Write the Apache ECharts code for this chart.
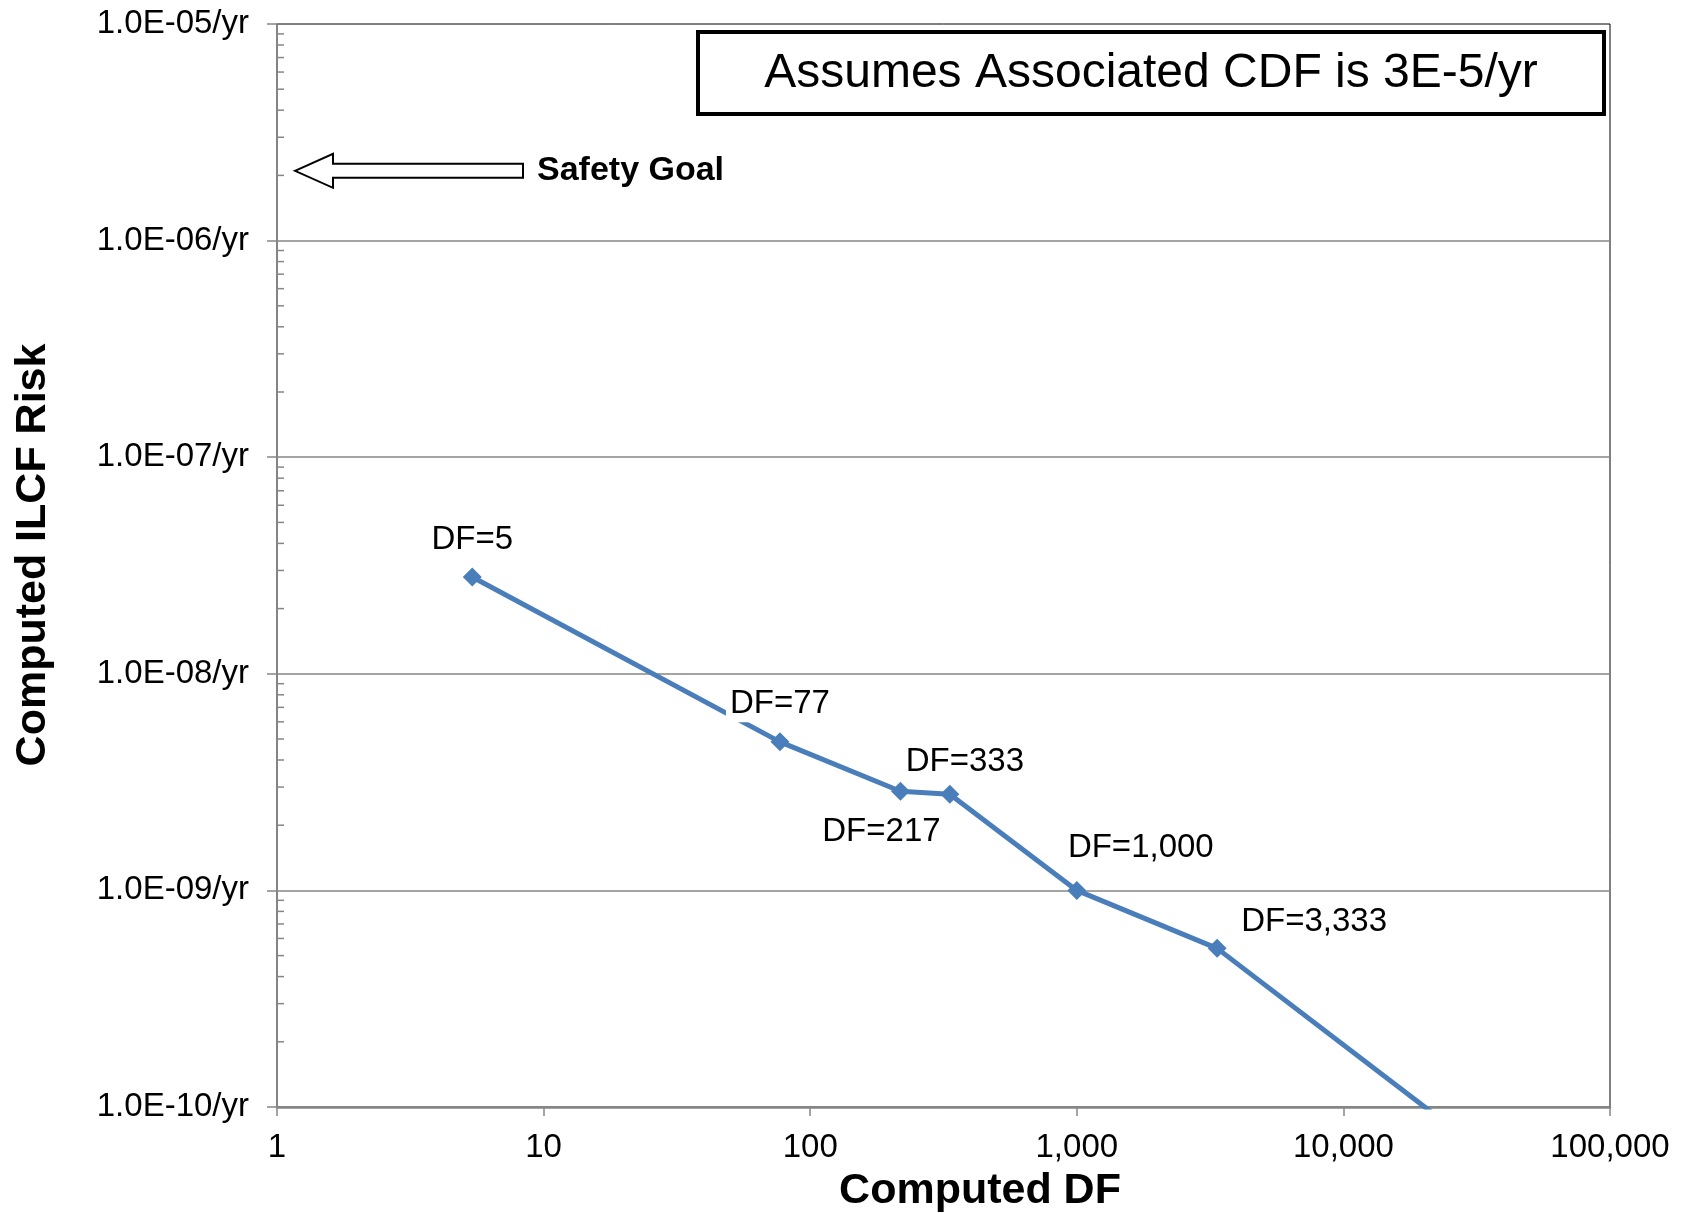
<!DOCTYPE html>
<html>
<head>
<meta charset="utf-8">
<script src="https://cdn.jsdelivr.net/npm/echarts@6/dist/echarts.min.js"></script>
<style>
  html, body { margin: 0; padding: 0; background: #fff; }
  #chart { width: 1683px; height: 1213px; }
</style>
</head>
<body>
<div id="chart"></div>
<script>
// ---- data ----
const dfValues   = [5.4, 77, 218, 334, 1000, 3360, 33000];
const riskValues = [2.8e-8, 4.85e-9, 2.87e-9, 2.78e-9, 1.0e-9, 5.4e-10, 6.3e-11];
const pointLabels = ['DF=5', 'DF=77', 'DF=217', 'DF=333', 'DF=1,000', 'DF=3,333', ''];
const xTickLabels = ['1', '10', '100', '1,000', '10,000', '100,000'];
const yTickLabels = ['1.0E-10/yr', '1.0E-09/yr', '1.0E-08/yr', '1.0E-07/yr', '1.0E-06/yr', '1.0E-05/yr'];
const safetyGoal = 2.1e-6;
const boxText = 'Assumes Associated CDF is 3E-5/yr';
const xTitle = 'Computed DF';
const yTitle = 'Computed ILCF Risk';

// label offsets (style, not data)
const labelOffsets = [[0, -37], [0, -38], [-19, 41], [15, -32], [64, -42], [97, -26], [0, 0]];

const FONT = '"Liberation Sans", Arial, Helvetica, sans-serif';
const GRAY = '#868686';
const BLUE = '#4a7ebb';

// minor tick values for the log y axis (2..9 per decade)
const minorTicks = [];
for (let n = -10; n < -5; n++) {
  for (let k = 2; k <= 9; k++) minorTicks.push([1, k * Math.pow(10, n)]);
}

const chart = echarts.init(document.getElementById('chart'), null, { renderer: 'canvas' });

const option = {
  backgroundColor: '#fff',
  animation: false,
  grid: {
    left: 277, right: 73, top: 24, bottom: 106,
    show: true, borderColor: '#000', borderWidth: 1, backgroundColor: 'transparent'
  },
  xAxis: {
    type: 'log', logBase: 10, min: 1, max: 100000,
    axisLine: { show: true, onZero: false, lineStyle: { color: GRAY, width: 2.5 } },
    axisTick: { show: true, length: 9, lineStyle: { color: GRAY, width: 1.5 } },
    splitLine: { show: false },
    axisLabel: {
      margin: 24, color: '#000', fontFamily: FONT, fontSize: 33,
      formatter: function (v) { return xTickLabels[Math.round(Math.log10(v))]; }
    }
  },
  yAxis: {
    type: 'log', logBase: 10, min: 1e-10, max: 1e-5,
    axisLine: { show: true, lineStyle: { color: GRAY, width: 1.5 } },
    axisTick: { show: true, length: 10, lineStyle: { color: GRAY, width: 1.5 } },
    splitLine: { show: true, showMinLine: false, showMaxLine: false, lineStyle: { color: GRAY, width: 1.5 } },
    axisLabel: {
      margin: 28, color: '#000', fontFamily: FONT, fontSize: 33,
      formatter: function (v) { return yTickLabels[Math.round(Math.log10(v)) + 10]; }
    }
  },
  series: [
    {
      type: 'custom',
      silent: true,
      data: minorTicks,
      renderItem: function (params, api) {
        const p = api.coord([api.value(0), api.value(1)]);
        return {
          type: 'line',
          shape: { x1: p[0], y1: p[1], x2: p[0] + 7, y2: p[1] },
          style: { stroke: GRAY, lineWidth: 1.5 }
        };
      },
      z: 1
    },
    {
      type: 'line',
      data: dfValues.map((x, i) => [x, riskValues[i]]),
      symbol: 'diamond',
      symbolSize: 19,
      clip: true,
      lineStyle: { color: BLUE, width: 5 },
      itemStyle: { color: BLUE },
      label: {
        show: true,
        position: 'inside',
        color: '#000',
        fontFamily: FONT,
        fontSize: 33,
        backgroundColor: '#fff',
        padding: [2, 4],
        formatter: function (p) { return pointLabels[p.dataIndex]; }
      },
      labelLayout: function (params) {
        const o = labelOffsets[params.dataIndex] || [0, 0];
        return { dx: o[0], dy: o[1] };
      },
      z: 3
    }
  ]
};

chart.setOption(option);

// annotations positioned through the chart's own scales
const goalPx = chart.convertToPixel({ gridIndex: 0 }, [1, safetyGoal]);
const gy = goalPx[1];
const gx = goalPx[0];
const tip = gx + 18, headBack = gx + 56, shaftEnd = gx + 246;

chart.setOption({
  graphic: [
    {
      type: 'polygon',
      shape: {
        points: [
          [tip, gy],
          [headBack, gy - 17],
          [headBack, gy - 7],
          [shaftEnd, gy - 7],
          [shaftEnd, gy + 7],
          [headBack, gy + 7],
          [headBack, gy + 17]
        ]
      },
      style: { fill: '#fff', stroke: '#000', lineWidth: 2 },
      z: 10
    },
    {
      type: 'text',
      x: shaftEnd + 14, y: gy,
      style: {
        text: 'Safety Goal', fill: '#000', font: 'bold 34px ' + FONT,
        textAlign: 'left', textVerticalAlign: 'middle'
      },
      z: 10
    },
    {
      type: 'rect',
      shape: { x: 698, y: 32, width: 906, height: 82 },
      style: { fill: '#fff', stroke: '#000', lineWidth: 4 },
      z: 10
    },
    {
      type: 'text',
      x: 1151, y: 74,
      style: {
        text: boxText, fill: '#000', font: '48px ' + FONT,
        textAlign: 'center', textVerticalAlign: 'middle'
      },
      z: 11
    },
    {
      type: 'text',
      x: 980, y: 1191,
      style: {
        text: xTitle, fill: '#000', font: 'bold 43px ' + FONT,
        textAlign: 'center', textVerticalAlign: 'middle'
      },
      z: 10
    },
    {
      type: 'text',
      x: 33, y: 555,
      rotation: Math.PI / 2,
      style: {
        text: yTitle, fill: '#000', font: 'bold 43px ' + FONT,
        textAlign: 'center', textVerticalAlign: 'middle'
      },
      z: 10
    }
  ]
});
</script>
</body>
</html>
